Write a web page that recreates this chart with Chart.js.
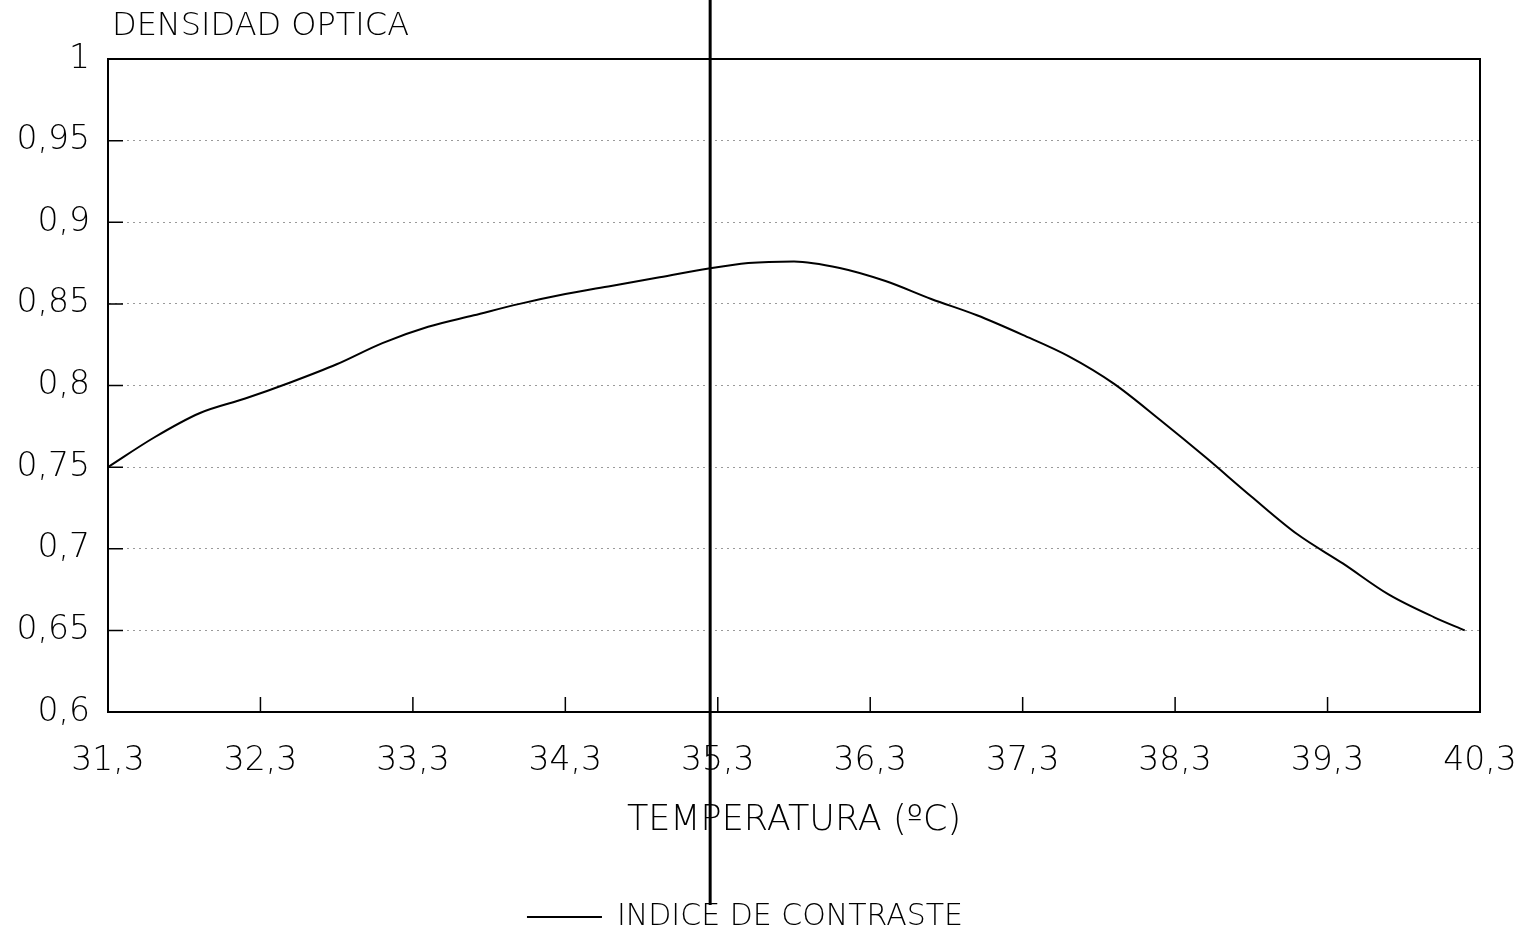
<!DOCTYPE html>
<html>
<head>
<meta charset="utf-8">
<title>Densidad optica</title>
<script src="https://cdn.jsdelivr.net/npm/chart.js@4.4.1/dist/chart.umd.min.js"></script>
<style>
  body { margin: 0; background: #fff; }
  canvas { display: block; }
</style>
</head>
<body>
<canvas id="chart" width="1525" height="945"></canvas>
<script>
const temps = [31.3, 31.6, 31.9, 32.2, 32.5, 32.8, 33.1, 33.4, 33.7, 34.0, 34.3, 34.6, 34.9, 35.2, 35.5,
               35.8, 36.1, 36.4, 36.7, 37.0, 37.3, 37.6, 37.9, 38.2, 38.5, 38.8, 39.1, 39.4, 39.7, 40.0, 40.2];
const contrast = [0.750, 0.768, 0.783, 0.792, 0.802, 0.813, 0.826, 0.836, 0.843, 0.850, 0.856, 0.861, 0.866, 0.871, 0.875,
                  0.876, 0.872, 0.864, 0.853, 0.843, 0.831, 0.818, 0.801, 0.779, 0.756, 0.732, 0.709, 0.691, 0.672, 0.658, 0.650];
const xTicks = [31.3, 32.3, 33.3, 34.3, 35.3, 36.3, 37.3, 38.3, 39.3, 40.3];
const yTicks = [0.6, 0.65, 0.7, 0.75, 0.8, 0.85, 0.9, 0.95, 1];
const markerTemp = 35.25;

const yTitle = 'DENSIDAD OPTICA';
const xTitle = 'TEMPERATURA (ºC)';
const seriesLabel = 'INDICE DE CONTRASTE';

const FONT = '"DejaVu Sans", sans-serif';
const WEIGHT = '200';
const comma = v => String(v).replace('.', ',');

// frame, inner tick marks, vertical marker and the y title
const extras = {
    id: 'extras',
    afterDraw(chart) {
        const {ctx, chartArea: a, scales: {x, y}} = chart;
        ctx.save();
        ctx.strokeStyle = '#000';
        ctx.lineWidth = 2;
        ctx.beginPath();
        ctx.moveTo(a.left, a.top);
        ctx.lineTo(a.right, a.top);
        ctx.lineTo(a.right, a.bottom);
        ctx.stroke();

        ctx.lineWidth = 1.5;
        ctx.beginPath();
        xTicks.slice(1, -1).forEach(v => {
            const px = x.getPixelForValue(v);
            ctx.moveTo(px, a.bottom);
            ctx.lineTo(px, a.bottom - 15);
        });
        yTicks.slice(1, -1).forEach(v => {
            const py = y.getPixelForValue(v);
            ctx.moveTo(a.left, py);
            ctx.lineTo(a.left + 15, py);
        });
        ctx.stroke();

        const mx = x.getPixelForValue(markerTemp);
        ctx.lineWidth = 3;
        ctx.beginPath();
        ctx.moveTo(mx, 0);
        ctx.lineTo(mx, 905);
        ctx.stroke();

        ctx.fillStyle = '#000';
        ctx.font = WEIGHT + ' 32px ' + FONT;
        ctx.textAlign = 'left';
        ctx.textBaseline = 'middle';
        ctx.fillText(yTitle, 112, 27);
        ctx.restore();
    }
};

new Chart(document.getElementById('chart'), {
    type: 'line',
    data: {
        datasets: [{
            label: seriesLabel,
            data: temps.map((t, i) => ({x: t, y: contrast[i]})),
            borderColor: '#000',
            borderWidth: 2,
            pointRadius: 0,
            fill: false,
            cubicInterpolationMode: 'monotone'
        }]
    },
    options: {
        responsive: false,
        animation: false,
        layout: {padding: {left: 10, right: 45, top: 59, bottom: 3}},
        plugins: {
            legend: {
                position: 'bottom',
                labels: {
                    usePointStyle: true,
                    pointStyle: 'line',
                    pointStyleWidth: 75,
                    padding: 10,
                    color: '#000',
                    font: {family: FONT, size: 30, weight: WEIGHT}
                }
            },
            tooltip: {enabled: false}
        },
        scales: {
            x: {
                type: 'linear',
                min: 31.3,
                max: 40.3,
                afterBuildTicks: s => { s.ticks = xTicks.map(v => ({value: v})); },
                afterFit: s => { s.height = 180; s.paddingLeft = 0; s.paddingRight = 0; },
                grid: {display: false, drawTicks: false},
                border: {color: '#000', width: 2},
                ticks: {
                    padding: 30,
                    color: '#000',
                    maxRotation: 0,
                    font: {family: FONT, size: 33, weight: WEIGHT},
                    callback: v => comma(v)
                },
                title: {
                    display: true,
                    text: xTitle,
                    color: '#000',
                    font: {family: FONT, size: 35, weight: WEIGHT},
                    padding: {top: 0, bottom: 50}
                }
            },
            y: {
                min: 0.6,
                max: 1,
                afterBuildTicks: s => { s.ticks = yTicks.map(v => ({value: v})); },
                afterFit: s => { s.width = 98; s.paddingTop = 0; s.paddingBottom = 0; },
                grid: {color: '#9a9a9a', lineWidth: 1, drawTicks: false},
                border: {color: '#000', width: 2, dash: [2, 4]},
                ticks: {
                    padding: 18,
                    color: '#000',
                    font: {family: FONT, size: 33, weight: WEIGHT},
                    callback: v => comma(v)
                }
            }
        }
    },
    plugins: [extras]
});
</script>
</body>
</html>
